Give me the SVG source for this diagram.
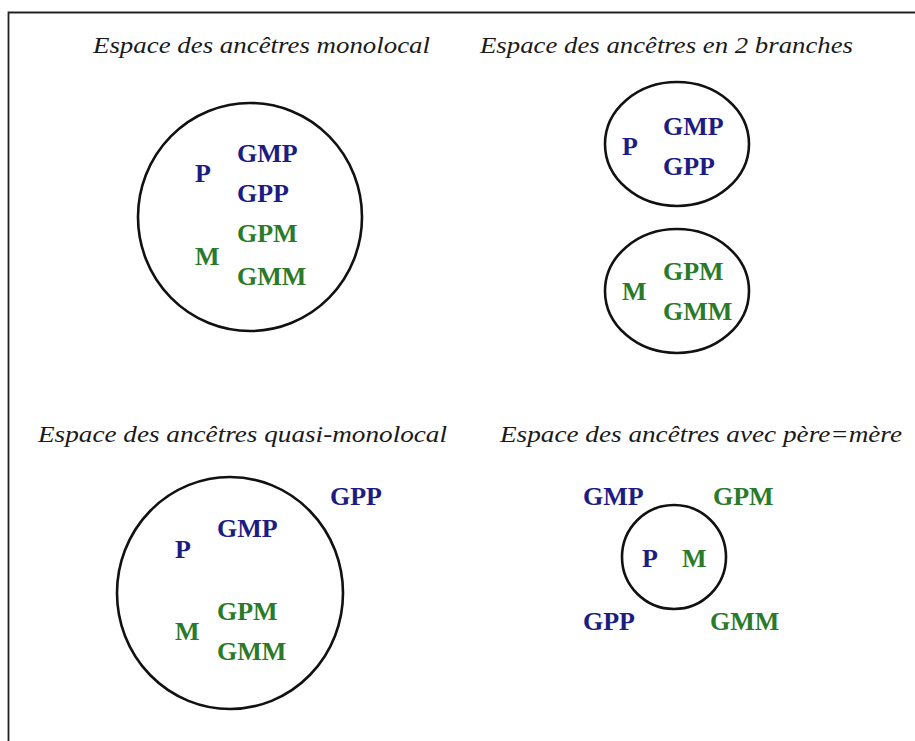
<svg xmlns="http://www.w3.org/2000/svg" width="915" height="741" viewBox="0 0 915 741">
<style>
.title{font-family:"Liberation Serif","Times New Roman",serif;font-style:italic;font-size:24px;fill:#1a1a1a}
.lbl{font-family:"Liberation Serif","Times New Roman",serif;font-weight:bold;font-size:26px}
.b{fill:#1c1c82}
.g{fill:#2a7a2a}
.ring{fill:none;stroke:#111;stroke-width:2.6}
</style>
<rect width="915" height="741" fill="#fff"/>
<path d="M8.5 741 V12.5 H915" fill="none" stroke="#222" stroke-width="1.8"/>

<g id="monolocal">
<text class="title" x="93" y="53" textLength="337" lengthAdjust="spacingAndGlyphs">Espace des ancêtres monolocal</text>
<ellipse class="ring" cx="250" cy="217" rx="112" ry="114"/>
<text class="lbl b" x="195" y="182">P</text>
<text class="lbl b" x="237" y="162">GMP</text>
<text class="lbl b" x="237" y="202">GPP</text>
<text class="lbl g" x="237" y="242">GPM</text>
<text class="lbl g" x="195" y="265">M</text>
<text class="lbl g" x="237" y="285">GMM</text>
</g>

<g id="deux-branches">
<text class="title" x="480" y="53" textLength="373" lengthAdjust="spacingAndGlyphs">Espace des ancêtres en 2 branches</text>
<ellipse class="ring" cx="677" cy="144" rx="72" ry="62"/>
<text class="lbl b" x="622" y="155">P</text>
<text class="lbl b" x="663" y="135">GMP</text>
<text class="lbl b" x="663" y="175">GPP</text>
<ellipse class="ring" cx="677" cy="291" rx="72" ry="62"/>
<text class="lbl g" x="622" y="300">M</text>
<text class="lbl g" x="663" y="280">GPM</text>
<text class="lbl g" x="663" y="320">GMM</text>
</g>

<g id="quasi-monolocal">
<text class="title" x="38" y="442" textLength="409" lengthAdjust="spacingAndGlyphs">Espace des ancêtres quasi-monolocal</text>
<ellipse class="ring" cx="230" cy="593" rx="113" ry="116"/>
<text class="lbl b" x="330" y="505">GPP</text>
<text class="lbl b" x="217" y="537">GMP</text>
<text class="lbl b" x="175" y="558">P</text>
<text class="lbl g" x="217" y="620">GPM</text>
<text class="lbl g" x="175" y="640">M</text>
<text class="lbl g" x="217" y="660">GMM</text>
</g>

<g id="pere-egal-mere">
<text class="title" x="500" y="442" textLength="402" lengthAdjust="spacingAndGlyphs">Espace des ancêtres avec père=mère</text>
<text class="lbl b" x="583" y="505">GMP</text>
<text class="lbl g" x="713" y="505">GPM</text>
<ellipse class="ring" cx="674" cy="557" rx="52" ry="52"/>
<text class="lbl b" x="642" y="567">P</text>
<text class="lbl g" x="682" y="567">M</text>
<text class="lbl b" x="583" y="630">GPP</text>
<text class="lbl g" x="710" y="630">GMM</text>
</g>

<g id="connectors"></g>
</svg>
